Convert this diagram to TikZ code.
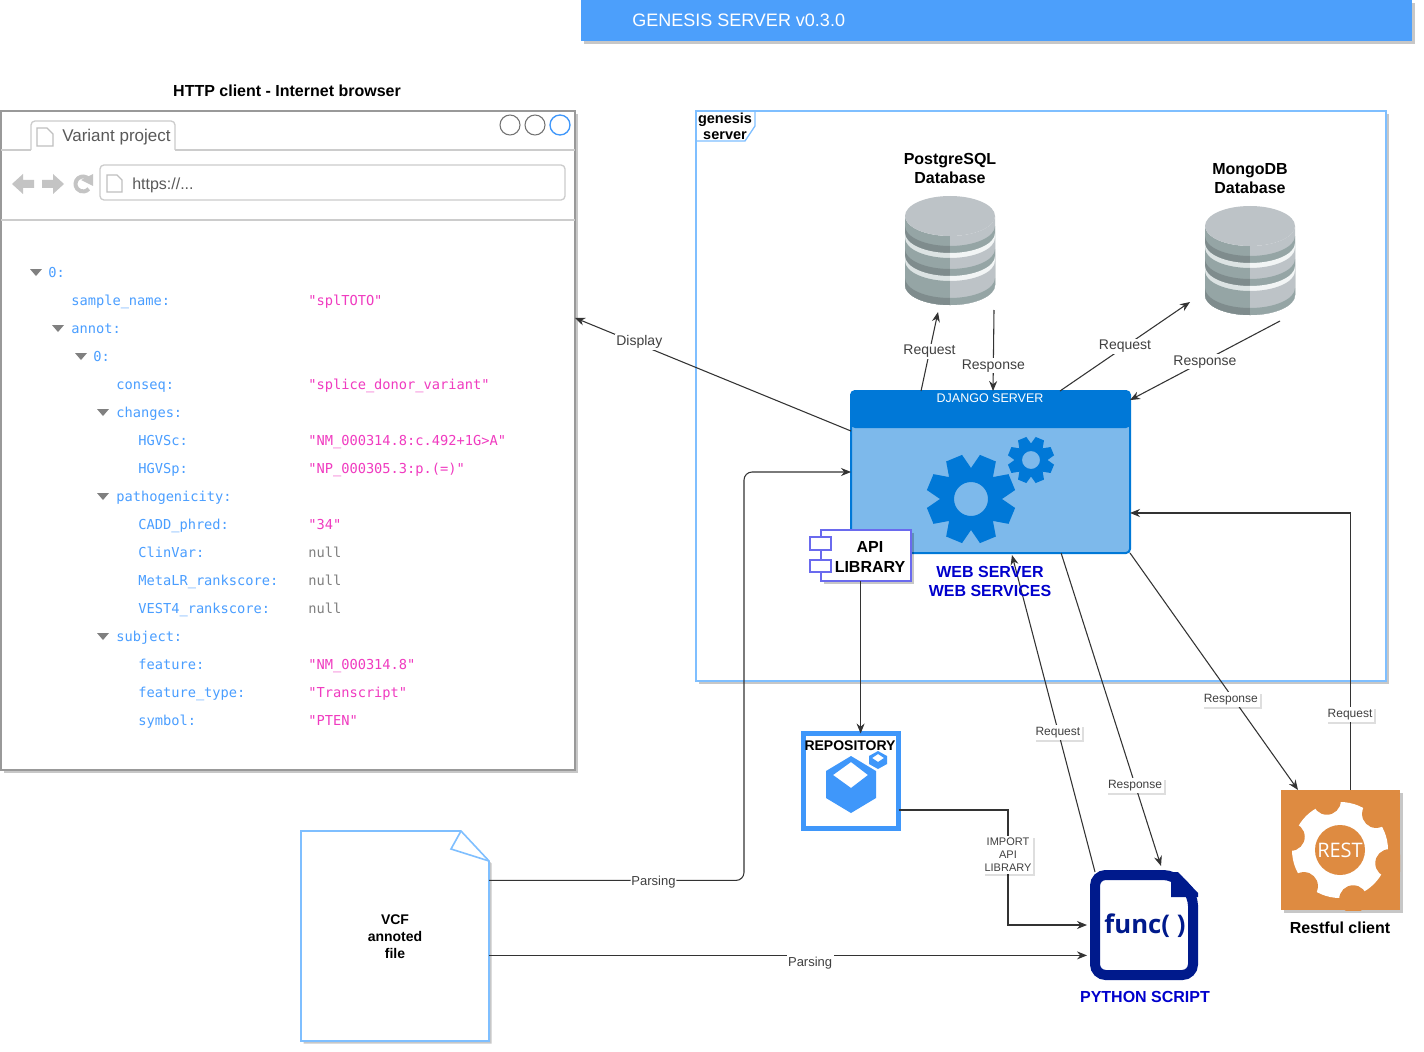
\documentclass[tikz,border=0pt]{standalone}
\usepackage{fontspec}
\setmainfont{Liberation Sans}
\setmonofont{DejaVu Sans Mono}
\newfontfamily\osans{Open Sans}
\usetikzlibrary{arrows.meta,calc,shadows}
\definecolor{titleblue}{HTML}{4C9FFB}
\definecolor{frameblue}{HTML}{7FBFFF}
\definecolor{msblue}{HTML}{0078D7}
\definecolor{mslight}{HTML}{7DB9EB}
\definecolor{navy}{HTML}{001A8C}
\definecolor{webblue}{HTML}{0000CC}
\definecolor{violetline}{HTML}{6A6AEE}
\definecolor{repoblue}{HTML}{3F97FA}
\definecolor{restorange}{HTML}{DE8B41}
\definecolor{jsonkey}{HTML}{4A9EFF}
\definecolor{jsonstr}{HTML}{F03BC0}
\definecolor{jsonnull}{HTML}{808080}
\definecolor{dbdark}{HTML}{95A5A5}
\definecolor{dbdarker}{HTML}{7F8C8D}
\definecolor{dblight}{HTML}{BDC3C7}
\definecolor{dbpale}{HTML}{DCE3E3}
\definecolor{dbwhite}{HTML}{F2F5F5}
\definecolor{icongray}{HTML}{C4C4C4}
\newcommand\pxu{0.75pt}
\newcommand\fpx[1]{\fontsize{\the\dimexpr#1pt*3/4\relax}{\the\dimexpr#1pt*9/10\relax}\selectfont}
\tikzset{
  softshadow/.style={drop shadow={shadow xshift=2pt,shadow yshift=-2pt,opacity=.22,fill=black}},
  lightshadow/.style={drop shadow={shadow xshift=1.5pt,shadow yshift=-1.5pt,opacity=.13,fill=black}},
  boxnode/.style={rectangle,inner sep=0pt,outer sep=0pt,minimum width=#1*\pxu},
  boxh/.style={minimum height=#1*\pxu},
  conn/.style={draw=black!80,line width=.8pt,-{Stealth[length=7.5pt,width=6pt]}},
  lblbig/.style={fill=white,text=black!75,inner sep=1pt,font=\fpx{14}},
  lblsmall/.style={fill=white,text=black!75,inner sep=1.5pt,font=\fpx{12},lightshadow},
  boldtxt/.style={font=\bfseries\fpx{16},align=center,text=black,inner sep=0pt},
  jkey/.style={anchor=base west,inner sep=0pt,text=jsonkey,font=\ttfamily\fpx{13.7}},
  jstr/.style={anchor=base west,inner sep=0pt,text=jsonstr,font=\ttfamily\fpx{13.7}},
  jnull/.style={anchor=base west,inner sep=0pt,text=jsonnull,font=\ttfamily\fpx{13.7}},
}
\newcommand\jk[3]{\node[jkey] (jk#2) at (#1,{#2+5}) {#3};}
\newcommand\js[2]{\node[jstr] (js#1) at (308,{#1+5}) {#2};}
\newcommand\jn[1]{\node[jnull] (jn#1) at (308,{#1+5}) {null};}
\newcommand\jt[2]{\fill[jsonnull] ({#1-6},{#2-3}) -- ({#1+6},{#2-3}) -- (#1,{#2+4}) -- cycle;}
% gear: cx cy R rvalley halfwidth hole colour
\newcommand\gearshape[7]{%
  \fill[#7,even odd rule] ({#1+#3*cos(22.5-#5)},{#2+#3*sin(22.5-#5)})
    \foreach \gi in {0,...,7}{
      -- ({#1+#3*cos(22.5+45*\gi-#5)},{#2+#3*sin(22.5+45*\gi-#5)})
      -- ({#1+#3*cos(22.5+45*\gi+#5)},{#2+#3*sin(22.5+45*\gi+#5)})
      -- ({#1+#4*cos(45+45*\gi)},{#2+#4*sin(45+45*\gi)})
    } -- cycle
    (#1,#2) circle[radius=#6];}
% region of database below the curve at edge level #2, in colours #3 left / #4 right
\newcommand\dbcut[4]{%
  \fill[#3] ({#1-45},#2) .. controls ({#1-45},{#2+11}) and ({#1-25},{#2+20}) .. (#1,{#2+20})
     -- (#1,\dbbot) .. controls ({#1-25},\dbbot) and ({#1-45},{\dbbot-9}) .. ({#1-45},{\dbbot-20}) -- cycle;
  \fill[#4] ({#1+45},#2) .. controls ({#1+45},{#2+11}) and ({#1+25},{#2+20}) .. (#1,{#2+20})
     -- (#1,\dbbot) .. controls ({#1+25},\dbbot) and ({#1+45},{\dbbot-9}) .. ({#1+45},{\dbbot-20}) -- cycle;}
\newcommand\dbicon[2]{% cx, top
  \pgfmathsetmacro\dbbot{#2+109}
  \pgfmathsetmacro\dbc{#2+20}
  \dbcut{#1}{\dbc}{dbdark}{dblight}
  \pgfmathsetmacro\dbq{#2+30}\dbcut{#1}{\dbq}{dbdarker}{dbdark}
  \pgfmathsetmacro\dbq{#2+37}\dbcut{#1}{\dbq}{dbpale}{dbwhite}
  \pgfmathsetmacro\dbq{#2+42}\dbcut{#1}{\dbq}{dbdark}{dblight}
  \pgfmathsetmacro\dbq{#2+53}\dbcut{#1}{\dbq}{dbdarker}{dbdark}
  \pgfmathsetmacro\dbq{#2+60}\dbcut{#1}{\dbq}{dbpale}{dbwhite}
  \pgfmathsetmacro\dbq{#2+65}\dbcut{#1}{\dbq}{dbdark}{dblight}
  \pgfmathsetmacro\dbq{#2+82}\dbcut{#1}{\dbq}{dbdarker}{dbdark}
  \fill[dblight] (#1,\dbc) ellipse[x radius=45,y radius=20];
}
\begin{document}
\begin{tikzpicture}[x=0.75pt,y=-0.75pt]
\useasboundingbox (0,0) rectangle (1424,1052);
% title
\node[boxnode=831,boxh=41,fill=titleblue,softshadow] (titlebar) at (996.5,20.5) {};
\node[anchor=west,inner sep=0pt,text=white,font=\fpx{18}] (titletext) at (632,20.5) {GENESIS SERVER v0.3.0};
% browser
\node[boldtxt] (browsertitle) at (287,91) {HTTP client - Internet browser};
\node[boxnode=574,boxh=659,draw=black!40,line width=1.2pt,fill=white,softshadow] (browser) at (288,440.5) {};
\draw[black!20,line width=1pt] (1,150) -- (31,150);
\draw[black!20,line width=1pt] (175,150) -- (575,150);
\draw[black!20,line width=1pt,rounded corners=3pt] (31,150) -- (31,121) -- (175,121) -- (175,150);
\draw[black!20,line width=1pt] (1,220) -- (575,220);
\draw[black!25,line width=.8pt,fill=white] (37,128) -- (47,128) -- (53,134) -- (53,146) -- (37,146) -- cycle;
\node[anchor=west,inner sep=0pt,text=black!65,font=\fpx{17}] (tabtext) at (62,137) {Variant project};
\draw[black!55,line width=.8pt] (510,125) circle[radius=10];
\draw[black!55,line width=.8pt] (535,125) circle[radius=10];
\draw[repoblue,line width=1pt] (560,125) circle[radius=10];
\fill[icongray] (12,184) -- (23,174) -- (23,180) -- (34,180) -- (34,188) -- (23,188) -- (23,194) -- cycle;
\fill[icongray] (64,184) -- (53,174) -- (53,180) -- (42,180) -- (42,188) -- (53,188) -- (53,194) -- cycle;
\draw[icongray,line width=3pt] ({83+7.5*cos(-40)},{184+7.5*sin(-40)}) arc[start angle=-40,end angle=-320,radius=7.5];
\fill[icongray] (93,174) -- (93,186) -- (81,180) -- cycle;
\draw[black!20,line width=1pt,rounded corners=3pt] (100,165) rectangle (565,200);
\draw[black!25,line width=.8pt,fill=white] (107,175) -- (117,175) -- (122,180) -- (122,192) -- (107,192) -- cycle;
\node[anchor=west,inner sep=0pt,text=black!65,font=\fpx{16}] (urltext) at (132,185) {https://...};
% json
\jt{36}{272}\jk{48}{272}{0:}
\jk{71}{300}{sample\_name:}\js{300}{"splTOTO"}
\jt{58}{328}\jk{71}{328}{annot:}
\jt{81}{356}\jk{93}{356}{0:}
\jk{116}{384}{conseq:}\js{384}{"splice\_donor\_variant"}
\jt{103}{412}\jk{116}{412}{changes:}
\jk{138}{440}{HGVSc:}\js{440}{"NM\_000314.8:c.492+1G>A"}
\jk{138}{468}{HGVSp:}\js{468}{"NP\_000305.3:p.(=)"}
\jt{103}{496}\jk{116}{496}{pathogenicity:}
\jk{138}{524}{CADD\_phred:}\js{524}{"34"}
\jk{138}{552}{ClinVar:}\jn{552}
\jk{138}{580}{MetaLR\_rankscore:}\jn{580}
\jk{138}{608}{VEST4\_rankscore:}\jn{608}
\jt{103}{636}\jk{116}{636}{subject:}
\jk{138}{664}{feature:}\js{664}{"NM\_000314.8"}
\jk{138}{692}{feature\_type:}\js{692}{"Transcript"}
\jk{138}{720}{symbol:}\js{720}{"PTEN"}
% server frame
\node[boxnode=690,boxh=570,draw=frameblue,line width=1.2pt,fill=white,softshadow] (server) at (1041,396) {};
\draw[frameblue,line width=1pt] (696,141) -- (745,141) -- (755,126) -- (755,111);
\node[font=\bfseries\fpx{14.5},align=center,inner sep=0pt,text=black] (servertag) at (725,126) {genesis\\[-1pt]server};
% databases
\node[boldtxt] (pglabel) at (950,168.5) {PostgreSQL\\Database};
\node[boldtxt] (mglabel) at (1250,178.5) {MongoDB\\Database};
\node[boxnode=90,boxh=109] (pgdb) at (950,250.5) {};
\node[boxnode=90,boxh=109] (mgdb) at (1250,260.5) {};
\dbicon{950}{196}
\dbicon{1250}{206}
% django
\node[boxnode=279,boxh=162,draw=msblue,line width=1.5pt,fill=mslight,rounded corners=3pt] (django) at (990.5,472) {};
\node[boxnode=279,boxh=37,fill=msblue,rounded corners=3pt] (djhead) at (990.5,409.5) {};
\node[inner sep=0pt,text=white,font=\fpx{12.5}] (djtext) at (990,398) {DJANGO SERVER};
\gearshape{971}{499}{45}{31}{11}{17}{msblue}
\gearshape{1031}{460}{23.5}{16.5}{11}{9}{msblue}
% api library
\node[boxnode=90,boxh=51,draw=violetline,line width=1pt,fill=white,softshadow] (apilib) at (866,555.5) {};
\draw[violetline,line width=1pt,fill=white] (810,537) rectangle (831,550);
\draw[violetline,line width=1pt,fill=white] (810,560) rectangle (831,572);
\node[boldtxt] (apitext) at (870,557) {API\\LIBRARY};
% repository
\node[boxnode=95,boxh=95,draw=repoblue,line width=3.75pt,fill=white,softshadow] (repo) at (851,781) {};
\node[font=\bfseries\fpx{14},text=black,inner sep=0pt] (repotext) at (850,745.5) {REPOSITORY};
\fill[repoblue,even odd rule] (851,756) -- (876,771) -- (876,798) -- (851,813) -- (826,798) -- (826,771) -- cycle
   (851,762) -- (868,775) -- (851,788) -- (833,775) -- cycle;
\fill[repoblue,even odd rule] (878,751) -- (887,756) -- (887,764) -- (878,769) -- (869,764) -- (869,756) -- cycle
   (878,754) -- (884,758) -- (878,762) -- (872,758) -- cycle;
% vcf
\draw[frameblue,line width=1.2pt,softshadow,fill=white] (301,831) -- (461,831) -- (489,861) -- (489,1041) -- (301,1041) -- cycle;
\draw[frameblue,line width=1.2pt] (461,831) -- (451,849) -- (489,861);
\node[boxnode=188,boxh=210,font=\bfseries\fpx{14},align=center,text=black] (vcf) at (395,936.5) {VCF\\annoted\\file};
% python script
\node[boxnode=108,boxh=110] (pyfile) at (1144,925) {};
\draw[navy,line width=7.5pt,rounded corners=8pt,fill=white] (1095,875) -- (1174,875) -- (1193,895) -- (1193,975) -- (1095,975) -- cycle;
\fill[navy] (1171,872) -- (1178,872) -- (1198,893) -- (1198,897) -- (1171,897) -- cycle;
\node[inner sep=0pt,text=navy,font=\osans\bfseries\fpx{25.7}] (functext) at (1145,926) {func( )};
\node[font=\bfseries\fpx{16},text=webblue,inner sep=0pt] (pytext) at (1145,996.5) {PYTHON SCRIPT};
% rest
\node[boxnode=119,boxh=120,fill=restorange,softshadow] (rest) at (1340.5,850) {};
\begin{scope}
\clip (1281,790) rectangle (1400,910);
\fill[white] (1340,850) circle[radius=48];
\foreach \na in {-105,-45,15,75,135,195}{
  \fill[restorange] ({1340+51*cos(\na)},{850+51*sin(\na)}) circle[radius=14];
}
\fill[restorange] (1340,850) circle[radius=25];
\end{scope}
\node[inner sep=0pt,text=white,font=\osans\fpx{20}] (resttext) at (1340,850) {REST};
\node[boldtxt] (restlabel) at (1340,927.5) {Restful client};
% free ends
\coordinate (pgReqEnd) at ($(pgdb.south)+(-12,7)$);
\coordinate (pgRespStart) at ($(pgdb.south)+(44,5)$);
\coordinate (mgReqEnd) at ($(mgdb.south west)+(-15,-13)$);
\coordinate (mgRespStart) at ($(mgdb.south)+(30,6)$);
\coordinate (parseCorner) at (744,472);
\coordinate (importCorner) at (1008,810);
\coordinate (apiOut) at ($(apilib.south west)!.44!(apilib.south east)$);
\coordinate (restOut) at ($(rest.north west)!.58!(rest.north east)$);
\coordinate (restIn) at ($(django.north east)!.753!(django.south east)$);
\coordinate (parseB) at ($(vcf.north east)!.59!(vcf.south east)$);
\coordinate (parseBEnd) at ($(pyfile.west |- parseB)+(-3,0)$);
% connectors
\draw[conn] ($(django.north west)!.247!(django.south west)$) -- node[lblbig,pos=.767,yshift=1.5pt] (lDisplay) {Display} ($(browser.north east)!.314!(browser.south east)$);
\draw[conn] ($(django.north west)!.251!(django.north east)$) -- node[lblbig,pos=.5] (lReqPg) {Request} (pgReqEnd);
\draw[conn] (pgRespStart) -- node[lblbig,pos=.69] (lRespPg) {Response} ($(django.north west)!.509!(django.north east)$);
\draw[conn] ($(django.north west)!.749!(django.north east)$) -- node[lblbig,pos=.5] (lReqMg) {Request} (mgReqEnd);
\draw[conn] (mgRespStart) -- node[lblbig,pos=.5,yshift=-1pt] (lRespMg) {Response} ($(django.north east)!.056!(django.south east)$);
\coordinate (parseA) at ($(vcf.north east)!.233!(vcf.south east)$);
\draw[conn,rounded corners=6pt] (parseA) -- node[lblbig,font=\fpx{13},pos=.645,yshift=-1.5pt] (lParse1) {Parsing} (parseA -| parseCorner) -- (parseCorner) -- (django.west);
\draw[conn] (parseB) -- node[lblbig,font=\fpx{13},pos=.537,yshift=-5.5pt] (lParse2) {Parsing} (parseBEnd);
\draw[conn] (apiOut) -- (apiOut |- repo.north);
\draw[conn] (repo.east |- importCorner) -- (importCorner) -- node[lblsmall,font=\fpx{11},align=center,pos=.39] (lImport) {IMPORT\\API\\LIBRARY} (importCorner |- pyfile.west) -- ($(pyfile.west)+(-3,0)$);
\draw[conn] ($(pyfile.north west)+(5,2)$) -- node[lblsmall,pos=.447,yshift=-1.5pt] (lReqPy) {Request} ($(django.south west)!.577!(django.south east)+(0,2)$);
\draw[conn] ($(django.south west)!.753!(django.south east)$) -- node[lblsmall,pos=.74,yshift=-.75pt] (lRespPy) {Response} ($(pyfile.north east)+(-37,-4)$);
\draw[conn] (django.south east) -- node[lblsmall,pos=.6,yshift=-3pt] (lRespRest) {Response} ($(rest.north west)!.143!(rest.north east)$);
\draw[conn] (restOut) -- node[lblsmall,pos=.28,yshift=-1.5pt] (lReqRest) {Request} (restOut |- restIn) -- (restIn);
% web server caption sits over the connector
\node[font=\bfseries\fpx{16},align=center,text=webblue,inner sep=0pt] (webtext) at (990,581.5) {WEB SERVER\\WEB SERVICES};
\end{tikzpicture}
\end{document}
